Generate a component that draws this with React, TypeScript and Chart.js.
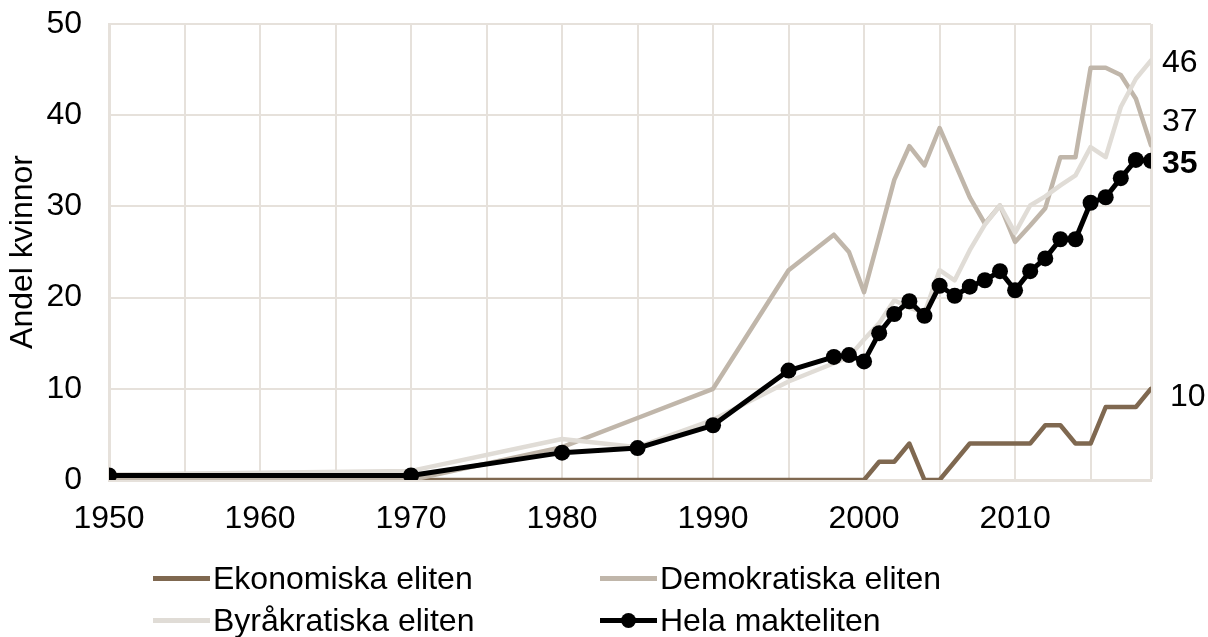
import React, { useEffect, useRef } from "react";
import { Chart, registerables } from "chart.js";

Chart.register(...registerables);

const years = [1950, 1970, 1980, 1985, 1990, 1995, 1998, 1999, 2000, 2001, 2002, 2003, 2004, 2005, 2006, 2007, 2008, 2009, 2010, 2011, 2012, 2013, 2014, 2015, 2016, 2017, 2018, 2019];
const ekonomiska = [0, 0, 0, 0, 0, 0, 0, 0, 0, 2, 2, 4, 0, 0, 2, 4, 4, 4, 4, 4, 6, 6, 4, 4, 8, 8, 8, 10];
const demokratiska = [0, 0, 3.6, 6.8, 10, 23, 26.9, 25, 20.6, 26.7, 32.9, 36.6, 34.5, 38.6, 34.8, 31, 28.1, 30.1, 26.1, 27.9, 29.8, 35.4, 35.4, 45.2, 45.2, 44.4, 41.8, 36.7];
const byrakratiska = [0.6, 1.0, 4.5, 3.6, 6.6, 10.8, 12.8, 13.5, 15.4, 17.2, 19.7, 18.9, 18.3, 23.0, 21.9, 25.2, 28.0, 30.1, 27.1, 30.1, 31.1, 32.3, 33.4, 36.5, 35.4, 40.9, 44.0, 46.0];
const hela = [0.5, 0.5, 3.0, 3.5, 6.0, 12.0, 13.5, 13.7, 13.0, 16.1, 18.2, 19.6, 18.0, 21.3, 20.2, 21.2, 21.9, 22.9, 20.8, 22.9, 24.3, 26.4, 26.4, 30.4, 31.0, 33.1, 35.1, 35.0];

const seriesNames = ["Ekonomiska eliten", "Demokratiska eliten", "Byråkratiska eliten", "Hela makteliten"];
const endLabels = ["10", "37", "46", "35"];
const xTickValues = [1950, 1955, 1960, 1965, 1970, 1975, 1980, 1985, 1990, 1995, 2000, 2005, 2010, 2015, 2019];
const yTitle = "Andel kvinnor";

const COLORS = {
  eko: "#7F6850",
  demo: "#C0B6AA",
  byr: "#E0DCD6",
  hela: "#000000",
  grid: "#E6E1DB",
};

const FONT_FAMILY = '"Liberation Sans", Arial, sans-serif';

const toPoints = (vals: number[]) => years.map((y, i) => ({ x: y, y: vals[i] }));

const endLabelPlugin = {
  id: "endLabels",
  afterDatasetsDraw(chart: any) {
    const ctx = chart.ctx;
    const yScale = chart.scales.y;
    const area = chart.chartArea;
    const items = chart.data.datasets.map((ds: any, i: number) => {
      const last = ds.data[ds.data.length - 1].y;
      return {
        text: endLabels[i],
        y: yScale.getPixelForValue(last) + (i === 0 ? 8 : 3),
        bold: i === 3,
        dx: i === 0 ? 8 : 0,
      };
    });
    const sorted = [...items].sort((a, b) => b.y - a.y);
    for (let i = 1; i < sorted.length; i++) {
      if (sorted[i - 1].y - sorted[i].y < 42) sorted[i].y = sorted[i - 1].y - 42;
    }
    ctx.save();
    ctx.fillStyle = "#000";
    ctx.textAlign = "left";
    ctx.textBaseline = "middle";
    items.forEach((it: any) => {
      ctx.font = (it.bold ? "bold " : "") + "32px " + FONT_FAMILY;
      ctx.fillText(it.text, area.right + 11 + it.dx, it.y);
    });
    ctx.restore();
  },
};

export default function App() {
  const ref = useRef<HTMLCanvasElement>(null);

  useEffect(() => {
    if (!ref.current) return;
    const chart = new Chart(ref.current, {
      type: "line",
      data: {
        datasets: [
          { label: seriesNames[0], data: toPoints(ekonomiska), borderColor: COLORS.eko, backgroundColor: COLORS.eko, borderWidth: 4.5, pointRadius: 0, order: 4 },
          { label: seriesNames[1], data: toPoints(demokratiska), borderColor: COLORS.demo, backgroundColor: COLORS.demo, borderWidth: 4.5, pointRadius: 0, order: 3 },
          { label: seriesNames[2], data: toPoints(byrakratiska), borderColor: COLORS.byr, backgroundColor: COLORS.byr, borderWidth: 4.5, pointRadius: 0, order: 2 },
          { label: seriesNames[3], data: toPoints(hela), borderColor: COLORS.hela, backgroundColor: COLORS.hela, borderWidth: 5, pointRadius: 8, pointBorderWidth: 0, pointBackgroundColor: "#000", order: 1 },
        ],
      },
      options: {
        animation: false,
        responsive: false,
        events: [],
        layout: { padding: { left: 0, right: 57, top: 24, bottom: 107 } },
        plugins: { legend: { display: false }, tooltip: { enabled: false } },
        elements: { line: { tension: 0, borderJoinStyle: "round", borderCapStyle: "round" } },
        scales: {
          x: {
            type: "linear",
            min: 1950,
            max: 2019,
            afterBuildTicks: (scale: any) => {
              scale.ticks = xTickValues.map((v) => ({ value: v }));
            },
            afterFit: (scale: any) => {
              scale.height = 50;
              scale.paddingLeft = 0;
              scale.paddingRight = 0;
            },
            ticks: {
              autoSkip: false,
              maxRotation: 0,
              padding: 20,
              color: "#000",
              font: { family: FONT_FAMILY, size: 32 },
              callback: (v: any) => (Number(v) % 10 === 0 ? String(v) : ""),
            },
            grid: { color: COLORS.grid, lineWidth: (c: any) => (c.tick && c.tick.value === 2019 ? 3 : 2), drawTicks: false },
            border: { display: true, color: COLORS.grid, width: 3 },
          },
          y: {
            min: 0,
            max: 50,
            afterFit: (scale: any) => {
              scale.width = 109;
              scale.paddingTop = 0;
              scale.paddingBottom = 0;
            },
            ticks: {
              stepSize: 10,
              padding: 27,
              color: "#000",
              font: { family: FONT_FAMILY, size: 32 },
            },
            grid: { color: COLORS.grid, lineWidth: 2, drawTicks: false },
            border: { display: true, color: COLORS.grid, width: 3 },
            title: {
              display: true,
              text: yTitle,
              color: "#000",
              font: { family: FONT_FAMILY, size: 32 },
              padding: { top: 4, bottom: 0 },
            },
          },
        },
      },
      plugins: [endLabelPlugin],
    });
    return () => chart.destroy();
  }, []);

  const legendRow = (idx: number, left: number, top: number) => {
    const color = [COLORS.eko, COLORS.demo, COLORS.byr, COLORS.hela][idx];
    return (
      <div key={idx} style={{ position: "absolute", left, top, height: 40, display: "flex", alignItems: "center" }}>
        <div style={{ position: "relative", width: 57, height: 40 }}>
          <div style={{ position: "absolute", left: 0, right: 0, top: 18, height: 5, background: color }} />
          {idx === 3 && (
            <div style={{ position: "absolute", left: 21, top: 13, width: 15, height: 15, borderRadius: 8, background: "#000" }} />
          )}
        </div>
        <span style={{ fontFamily: FONT_FAMILY, fontSize: 32, color: "#000", marginLeft: 3, lineHeight: "40px", whiteSpace: "nowrap" }}>
          {seriesNames[idx]}
        </span>
      </div>
    );
  };

  return (
    <div style={{ position: "fixed", left: 0, top: 0, width: 1208, height: 637, background: "#fff" }}>
      <canvas ref={ref} width={1208} height={637} style={{ position: "absolute", left: 0, top: 0 }} />
      {legendRow(0, 153, 558)}
      {legendRow(1, 600, 558)}
      {legendRow(2, 153, 600)}
      {legendRow(3, 600, 600)}
    </div>
  );
}
